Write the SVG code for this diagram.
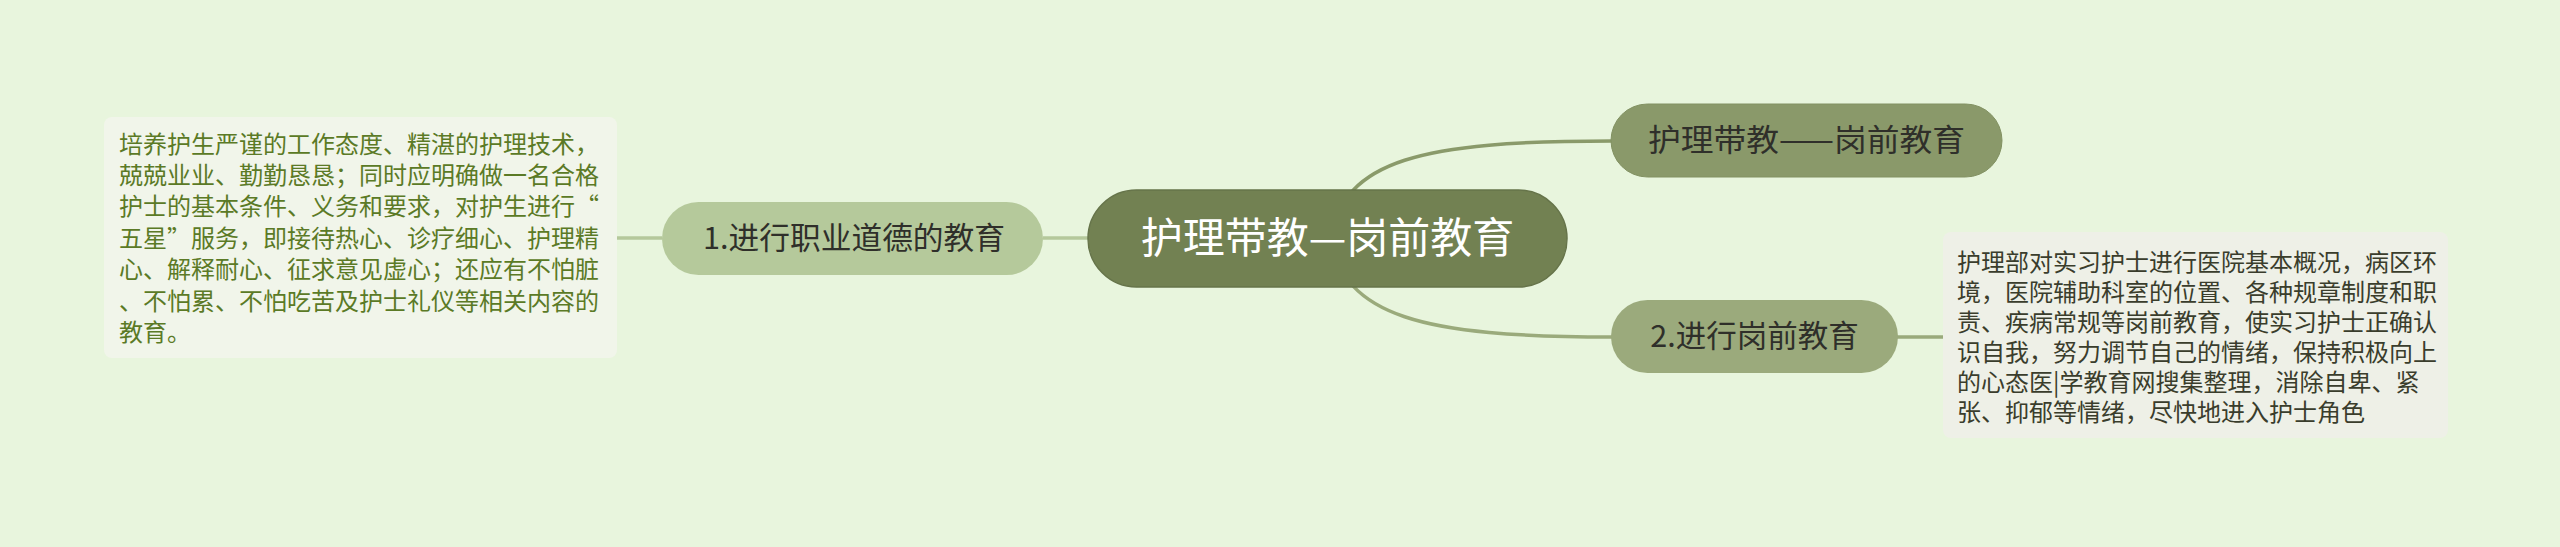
<svg xmlns="http://www.w3.org/2000/svg" width="2560" height="547" viewBox="0 0 2560 547">
<style>
.cjk{font-family:"Noto Sans CJK SC","Noto Sans",sans-serif}
.conn{fill:none;stroke-width:3.5}
.note1{fill:#5b7a26;font-size:24px}
.note2{fill:#3a3d2c;font-size:24px}
.lbl{fill:#2f2f2a;font-size:30.5px}
</style>
<rect x="0" y="0" width="2560" height="547" fill="#e8f5dd"/>
<g id="connectors">
<line class="conn" x1="617" y1="238" x2="662" y2="238" stroke="#b5c89b"/>
<line class="conn" x1="1043" y1="238" x2="1090" y2="238" stroke="#b5c89b"/>
<path class="conn" d="M1330 238 C1345 160 1420 141 1612 141" stroke="#8a9a6a"/>
<path class="conn" d="M1330 238 C1345 316 1420 337 1612 337" stroke="#9aaa7b"/>
<line class="conn" x1="1897" y1="337" x2="1944" y2="337" stroke="#9aaa7b"/>
</g>
<g id="root">
<rect x="1088" y="190" width="479" height="97" rx="48.5" fill="#728152" stroke="#66744a" stroke-width="1.5"/>
<text class="cjk" x="1327.5" y="253" text-anchor="middle" font-size="42" fill="#ffffff">护理带教—岗前教育</text>
</g>
<g id="node-top">
<rect x="1611" y="104" width="391" height="73" rx="36.5" fill="#8a996a" stroke="#829162" stroke-width="1"/>
<text class="cjk lbl" x="1648" y="151" textLength="317" lengthAdjust="spacingAndGlyphs">护理带教——岗前教育</text>
</g>
<g id="node-1">
<rect x="662" y="202" width="381" height="73" rx="36.5" fill="#b5c99b"/>
<text class="cjk lbl" x="703" y="249" textLength="302" lengthAdjust="spacingAndGlyphs">1.进行职业道德的教育</text>
</g>
<g id="node-2">
<rect x="1611" y="300" width="287" height="73" rx="36.5" fill="#9baa7c"/>
<text class="cjk lbl" x="1754.5" y="347" text-anchor="middle">2.进行岗前教育</text>
</g>
<g id="note-1">
<rect x="104" y="117" width="513" height="241" rx="8" fill="#f1f5ea"/>
<text class="cjk note1" x="119">
<tspan x="119" y="153">培养护生严谨的工作态度、精湛的护理技术，</tspan>
<tspan x="119" y="184">兢兢业业、勤勤恳恳；同时应明确做一名合格</tspan>
<tspan x="119" y="215">护士的基本条件、义务和要求，对护生进行“</tspan>
<tspan x="119" y="247">五星”服务，即接待热心、诊疗细心、护理精</tspan>
<tspan x="119" y="278">心、解释耐心、征求意见虚心；还应有不怕脏</tspan>
<tspan x="119" y="310">、不怕累、不怕吃苦及护士礼仪等相关内容的</tspan>
<tspan x="119" y="341">教育。</tspan>
</text>
</g>
<g id="note-2">
<rect x="1943" y="232" width="505" height="206" rx="8" fill="#eef0e7"/>
<text class="cjk note2">
<tspan x="1957" y="271">护理部对实习护士进行医院基本概况，病区环</tspan>
<tspan x="1957" y="301">境，医院辅助科室的位置、各种规章制度和职</tspan>
<tspan x="1957" y="331">责、疾病常规等岗前教育，使实习护士正确认</tspan>
<tspan x="1957" y="361">识自我，努力调节自己的情绪，保持积极向上</tspan>
<tspan x="1957" y="391">的心态医|学教育网搜集整理，消除自卑、紧</tspan>
<tspan x="1957" y="421">张、抑郁等情绪，尽快地进入护士角色</tspan>
</text>
</g>
</svg>
